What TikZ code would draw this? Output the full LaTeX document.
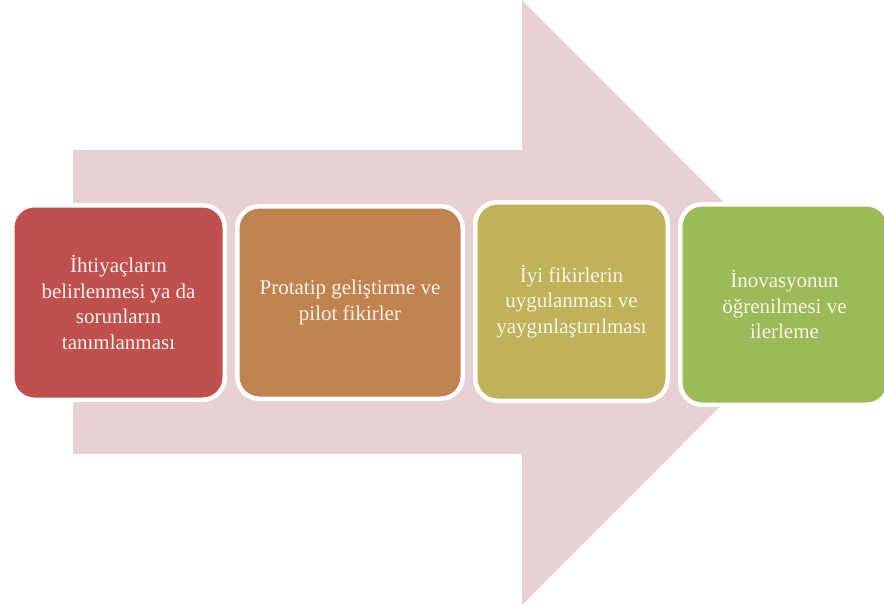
\documentclass[tikz,border=0pt]{standalone}
\usepackage{fontspec}
\setmainfont{Liberation Serif}
\definecolor{fleche}{HTML}{E6D0D1}
\definecolor{rouge}{HTML}{C0504D}
\definecolor{orange}{HTML}{C0834F}
\definecolor{olive}{HTML}{BFB258}
\definecolor{vert}{HTML}{9BBB59}
\definecolor{texte}{HTML}{FAF4EA}
\begin{document}
\begin{tikzpicture}[x=1pt, y=-1pt]
			\tikzset{etape/.style={rectangle, rounded corners=22pt, draw=white, line width=4.5pt, text centered, align=center, text=texte, font=\fontsize{21}{25.5}\selectfont}};
			\useasboundingbox (0,0) rectangle (884,614);
			% grande fleche
			\fill[fleche] (73,150) -- (522,150) -- (522,0) -- (824,302.5) -- (522,605) -- (522,454) -- (73,454) -- cycle;

			\foreach \n/\x/\y/\w/\h/\c/\t in {
				1/118.5/302.5/212.5/194.5/rouge/{\.Ihtiyaçların\\belirlenmesi ya da\\sorunların\\tanımlanması},
				2/350/302.5/225.5/192.5/orange/{Protatip geliştirme ve\\pilot fikirler},
				3/571.5/301.5/192.5/198.5/olive/{\.Iyi fikirlerin\\uygulanması ve\\yaygınlaştırılması},
				4/784.5/304.5/208.5/200.5/vert/{\.Inovasyonun\\öğrenilmesi ve\\ilerleme}} {
				\node[etape, fill=\c, minimum width=\w pt, minimum height=\h pt] (etape\n) at (\x,\y) {\t};
			}
		\end{tikzpicture}
\end{document}
